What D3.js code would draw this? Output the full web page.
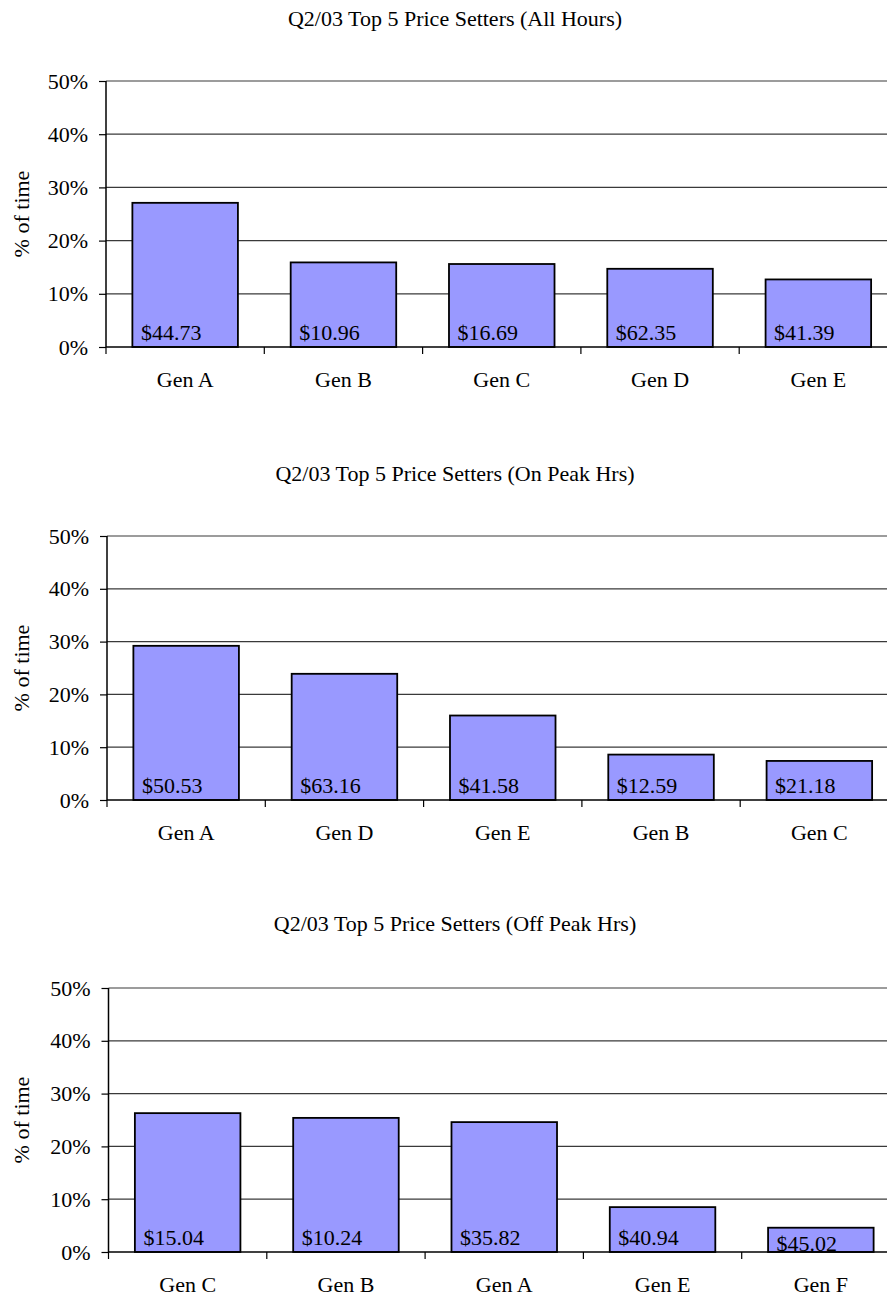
<!DOCTYPE html>
<html>
  <head>
    <meta charset="UTF-8" />
    <script src="https://d3js.org/d3.v7.min.js"></script>
    <style>
      body { margin: 0; background: #fff; }
    </style>
  </head>
  <body>
    <div id="my_dataviz"></div>

    <script>
      // tick labels shared by all three panels
      var yTicks = [0, 10, 20, 30, 40, 50];

      // panel 1 - all hours
      var allTitle = "Q2/03 Top 5 Price Setters (All Hours)";
      var allGens = ["Gen A", "Gen B", "Gen C", "Gen D", "Gen E"];
      var allShare = [27.1, 15.9, 15.6, 14.7, 12.7];
      var allPrice = ["$44.73", "$10.96", "$16.69", "$62.35", "$41.39"];

      // panel 2 - on peak
      var onTitle = "Q2/03 Top 5 Price Setters (On Peak Hrs)";
      var onGens = ["Gen A", "Gen D", "Gen E", "Gen B", "Gen C"];
      var onShare = [29.2, 23.9, 16.0, 8.6, 7.4];
      var onPrice = ["$50.53", "$63.16", "$41.58", "$12.59", "$21.18"];

      // panel 3 - off peak
      var offTitle = "Q2/03 Top 5 Price Setters (Off Peak Hrs)";
      var offGens = ["Gen C", "Gen B", "Gen A", "Gen E", "Gen F"];
      var offShare = [26.3, 25.4, 24.6, 8.5, 4.6];
      var offPrice = ["$15.04", "$10.24", "$35.82", "$40.94", "$45.02"];

      var width = 887,
        height = 1296;
      var font = '"Liberation Serif", "Times New Roman", serif';

      var svg = d3
        .select("#my_dataviz")
        .append("svg")
        .attr("width", width)
        .attr("height", height)
        .attr("font-family", font);

      // where each panel sits on the page
      var panels = [
        { title: allTitle, gens: allGens, share: allShare, price: allPrice, left: 106, top: 81, h: 266, titleY: 26 },
        { title: onTitle, gens: onGens, share: onShare, price: onPrice, left: 107, top: 536, h: 264, titleY: 481 },
        { title: offTitle, gens: offGens, share: offShare, price: offPrice, left: 108.5, top: 988, h: 264, titleY: 931 },
      ];

      var step = 158.3;
      var fontSize = 22;

      panels.forEach(function (p) {
        var w = step * p.gens.length;

        svg
          .append("text")
          .attr("x", 455)
          .attr("y", p.titleY)
          .attr("text-anchor", "middle")
          .attr("font-family", font)
          .attr("font-size", fontSize)
          .attr("fill", "#000")
          .text(p.title);

        var g = svg
          .append("g")
          .attr("transform", "translate(" + p.left + "," + p.top + ")");

        var y = d3.scaleLinear().domain([0, 50]).range([p.h, 0]);
        var x = d3.scaleBand().domain(p.gens).range([0, w]);
        var xBar = d3
          .scaleBand()
          .domain(p.gens)
          .range([0, w])
          .paddingInner(1 / 3)
          .paddingOuter(1 / 6);

        // gridlines
        g.append("g")
          .selectAll("line")
          .data(yTicks.filter(function (d) { return d > 0; }))
          .enter()
          .append("line")
          .attr("x1", 0)
          .attr("x2", w)
          .attr("y1", function (d) { return y(d); })
          .attr("y2", function (d) { return y(d); })
          .attr("stroke", "#3a3a3a")
          .attr("stroke-width", 1.2);

        // bars
        var data = p.gens.map(function (d, i) {
          return { gen: d, share: p.share[i], price: p.price[i] };
        });

        g.append("g")
          .selectAll("rect")
          .data(data)
          .enter()
          .append("rect")
          .attr("x", function (d) { return xBar(d.gen); })
          .attr("width", xBar.bandwidth())
          .attr("y", function (d) { return y(d.share); })
          .attr("height", function (d) { return y(0) - y(d.share); })
          .attr("fill", "#9999ff")
          .attr("stroke", "#000")
          .attr("stroke-width", 1.8);

        // price labels sit at the base of each bar
        g.append("g")
          .selectAll("text")
          .data(data)
          .enter()
          .append("text")
          .attr("x", function (d) { return x(d.gen) + x.bandwidth() / 2 - 14; })
          .attr("y", function (d) {
            return Math.max(y(0) - 7, y(d.share) + 23);
          })
          .attr("text-anchor", "middle")
          .attr("font-family", font)
          .attr("font-size", fontSize)
          .attr("fill", "#000")
          .text(function (d) { return d.price; });

        // y axis
        var yAxis = g
          .append("g")
          .call(
            d3
              .axisLeft(y)
              .tickValues(yTicks)
              .tickFormat(function (d) { return d + "%"; })
              .tickSize(7)
              .tickPadding(11)
          );
        yAxis.select(".domain").attr("stroke", "#000").attr("stroke-width", 1.5).attr("d", "M0," + p.h + "V0");
        yAxis.selectAll(".tick line").attr("stroke", "#000").attr("stroke-width", 1.2);
        yAxis
          .selectAll(".tick text")
          .attr("font-size", fontSize)
          .attr("font-family", font)
          .attr("fill", "#000");

        // x axis: labels centred on bands, ticks between categories
        var xAxis = g
          .append("g")
          .attr("transform", "translate(0," + p.h + ")")
          .call(d3.axisBottom(x).tickSize(0).tickPadding(24));
        xAxis.select(".domain").remove();
        xAxis
          .selectAll(".tick text")
          .attr("font-size", fontSize)
          .attr("font-family", font)
          .attr("fill", "#000");

        g.append("line")
          .attr("x1", 0)
          .attr("x2", w)
          .attr("y1", y(0))
          .attr("y2", y(0))
          .attr("stroke", "#000")
          .attr("stroke-width", 1.5);

        var bounds = p.gens.map(function (d) { return x(d); }).concat([w]);
        g.append("g")
          .selectAll("line")
          .data(bounds)
          .enter()
          .append("line")
          .attr("x1", function (d) { return d; })
          .attr("x2", function (d) { return d; })
          .attr("y1", y(0))
          .attr("y2", y(0) + 7)
          .attr("stroke", "#000")
          .attr("stroke-width", 1.2);

        // y axis title
        svg
          .append("text")
          .attr("transform", "translate(" + 29 + "," + (p.top + p.h / 2) + ") rotate(-90)")
          .attr("text-anchor", "middle")
          .attr("font-family", font)
          .attr("font-size", fontSize)
          .attr("fill", "#000")
          .text("% of time");
      });
    </script>
  </body>
</html>
